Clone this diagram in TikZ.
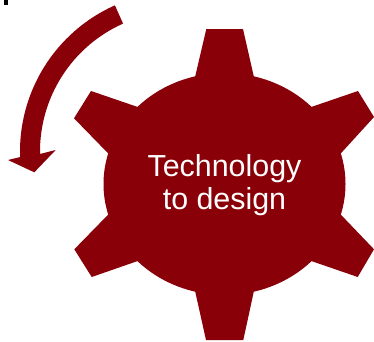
\documentclass[tikz,border=0pt]{standalone}
\usepackage{fontspec}
\setmainfont{Liberation Sans}
\definecolor{gearred}{HTML}{8A0008}
\tikzset{
  shapefill/.style={fill=gearred,draw=none},
  geartext/.style={text=white,align=center,inner sep=0pt,font=\fontsize{30.4}{33}\selectfont},
  ga/.style={shift={(224.5,157)}},
  ar/.style={shift={(180,189.5)}}
}
\begin{document}
\begin{tikzpicture}[x=1pt,y=1pt]
\useasboundingbox (0,0) rectangle (374,341);
\fill[black] (4,336) rectangle (8,341);
% curved arrow
\path[shapefill] ([ar]114:160) arc[start angle=114,end angle=182,radius=160]
  -- (8,181) -- (34.3,168.7) -- (55.7,191)
  -- ([ar]181:140) arc[start angle=181,end angle=114,radius=140] -- cycle;
% gear
\path[shapefill]
  (206.3,312) -- (243,312) -- ([ga]76:121 and 111)
  arc[start angle=76,end angle=44,x radius=121,y radius=111]
  -- (358,250) -- (374,224) -- ([ga]16:121 and 111)
  arc[start angle=16,end angle=-16,x radius=121,y radius=111]
  -- (374,91.7) -- (357.7,64) -- ([ga]-44:121 and 111)
  arc[start angle=-44,end angle=-76,x radius=121,y radius=111]
  -- (243.3,1) -- (206,1) -- ([ga]-104:121 and 111)
  arc[start angle=-104,end angle=-136,x radius=121,y radius=111]
  -- (91.7,64) -- (74.3,91.7) -- ([ga]-164:121 and 111)
  arc[start angle=-164,end angle=-196,x radius=121,y radius=111]
  -- (74,222.7) -- (91,250) -- ([ga]136:121 and 111)
  arc[start angle=136,end angle=104,x radius=121,y radius=111]
  -- cycle;
\node[geartext] (label) at (224.5,156) {Technology\\to design};
\end{tikzpicture}
\end{document}
